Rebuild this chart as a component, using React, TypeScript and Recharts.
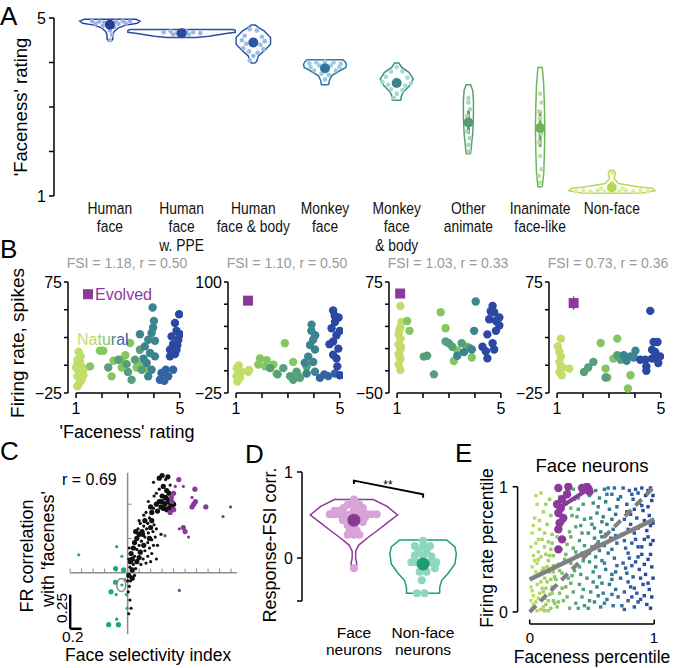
import React from 'react';
import { ScatterChart, Scatter, XAxis, YAxis, ReferenceLine } from 'recharts';

const FONT = "'Liberation Sans', Arial, Helvetica, sans-serif";

// ---------- Panel A: faceness ratings per category ----------
const A_LABELS = [
  ['Human', 'face'],
  ['Human', 'face', 'w. PPE'],
  ['Human', 'face & body'],
  ['Monkey', 'face'],
  ['Monkey', 'face', '& body'],
  ['Other', 'animate'],
  ['Inanimate', 'face-like'],
  ['Non-face'],
];
const A_MEANS = [4.85, 4.66, 4.45, 3.87, 3.54, 2.65, 2.53, 1.19];
const A_ERR = [[4.8, 4.9], [4.63, 4.69], [4.38, 4.52], [3.82, 3.92], [3.48, 3.6], [2.4, 2.92], [2.1, 2.92], [1.16, 1.22]];
const A_LINE = ['#2b45a0', '#2c4ea4', '#2d5ba6', '#35789e', '#3e8b88', '#5c9f76', '#70b45c', '#b6d957'];
const A_DOT = ['#283f98', '#2a4a9f', '#2b57a2', '#33759a', '#3b8783', '#589b72', '#6db159', '#b3d655'];
const A_LIGHT = ['#9db0e4', '#9fb5e6', '#98bce6', '#9ccbe7', '#a4dbcf', '#a5d8b5', '#b6e0a2', '#d8eea0'];
// violin outlines: [rating, half width in category units], bottom to top
const A_VIOLINS = [
  [[4.48, 0.02], [4.52, 0.04], [4.62, 0.04], [4.7, 0.06], [4.78, 0.12], [4.84, 0.22], [4.88, 0.38], [4.93, 0.42], [4.97, 0.36]],
  [[4.56, 0.2], [4.59, 0.38], [4.65, 0.62], [4.68, 0.75], [4.72, 0.75], [4.74, 0.72]],
  [[3.99, 0.03], [4.04, 0.05], [4.15, 0.07], [4.26, 0.15], [4.41, 0.24], [4.56, 0.24], [4.71, 0.15], [4.8, 0.06], [4.84, 0.03]],
  [[3.5, 0.05], [3.59, 0.06], [3.7, 0.09], [3.82, 0.21], [3.89, 0.29], [3.96, 0.3], [4.02, 0.28], [4.06, 0.25]],
  [[3.15, 0.06], [3.22, 0.06], [3.33, 0.09], [3.48, 0.18], [3.63, 0.23], [3.78, 0.17], [3.89, 0.07], [3.99, 0.03]],
  [[1.95, 0.03], [2.1, 0.04], [2.4, 0.06], [2.77, 0.07], [3.15, 0.07], [3.37, 0.06], [3.5, 0.03]],
  [[1.21, 0.03], [1.5, 0.05], [2.0, 0.06], [2.5, 0.065], [3.0, 0.06], [3.5, 0.05], [3.89, 0.03]],
  [[1.06, 0.24], [1.07, 0.42], [1.12, 0.6], [1.17, 0.57], [1.21, 0.36], [1.28, 0.09], [1.4, 0.03], [1.51, 0.05], [1.58, 0.03]],
];
// individual images: [offset from category centre, rating]
const A_POINTS = [
  [[-0.25, 4.93], [-0.15, 4.92], [-0.08, 4.9], [0.08, 4.92], [0.18, 4.93], [0.28, 4.92], [-0.2, 4.87], [0.12, 4.87], [0.22, 4.88], [-0.1, 4.82], [0.06, 4.8], [0, 4.72], [0, 4.5], [0.03, 4.62]],
  [[-0.25, 4.68], [-0.15, 4.7], [-0.07, 4.66], [0.07, 4.7], [0.16, 4.68], [0.26, 4.66], [-0.12, 4.63], [0.1, 4.63], [0, 4.6]],
  [[-0.05, 4.75], [0.05, 4.72], [-0.12, 4.6], [0.12, 4.58], [-0.16, 4.5], [0.16, 4.48], [-0.1, 4.42], [0.1, 4.4], [-0.14, 4.32], [0.14, 4.3], [-0.06, 4.25], [0.06, 4.22], [0, 4.15], [-0.05, 4.05]],
  [[-0.22, 3.98], [-0.12, 4.0], [0, 4.02], [0.12, 4.0], [0.22, 3.97], [-0.2, 3.9], [0.2, 3.9], [-0.08, 3.93], [0.08, 3.93], [-0.15, 3.82], [0.15, 3.82], [-0.05, 3.75], [0.05, 3.72], [0, 3.62]],
  [[0, 3.9], [-0.08, 3.8], [0.08, 3.8], [-0.15, 3.68], [0.15, 3.66], [-0.2, 3.56], [0.2, 3.54], [-0.12, 3.5], [0.12, 3.48], [-0.08, 3.4], [0.08, 3.38], [0, 3.3], [-0.04, 3.2]],
  [[0, 3.2], [0, 3.1], [0.02, 2.95], [-0.02, 2.8], [0.02, 2.6], [-0.02, 2.45], [0.02, 2.3], [0, 2.15], [0, 2.0]],
  [[0, 3.3], [0.02, 3.1], [-0.02, 2.9], [0, 2.75], [0.02, 2.4], [-0.02, 2.2], [0, 1.9], [0.02, 1.6], [-0.02, 1.45], [0, 1.3]],
  [[-0.5, 1.1], [-0.4, 1.12], [-0.3, 1.1], [-0.2, 1.12], [-0.1, 1.1], [0.1, 1.1], [0.2, 1.12], [0.3, 1.1], [0.4, 1.12], [0.5, 1.1], [-0.15, 1.17], [0.15, 1.17], [0, 1.3], [0, 1.52]],
];

// ---------- Panel B: example neurons, [rating, firing rate, colour group] ----------
const B_TITLES = ['FSI = 1.18, r = 0.50', 'FSI = 1.10, r = 0.50', 'FSI = 1.03, r = 0.33', 'FSI = 0.73, r = 0.36'];
const B_DOMAINS = [[-25, 75], [-25, 100], [-50, 75], [-25, 75]];
const B_TICKS = [[-25, 0, 25, 50, 75], [-25, 0, 25, 50, 75, 100], [-50, -25, 0, 25, 50, 75], [-25, 0, 25, 50, 75]];
const B_COLORS = ['#c3dd69', '#86c662', '#55a07a', '#3a8590', '#3164a4', '#2b48a4'];
const B_EVOLVED = [[1.46, 64], [1.46, 79], [1.12, 62], [1.64, 56]];
const B1_DOTS = [
  [1.05, 5, 0], [1.15, 4, 0], [1.05, 1, 0], [1.22, -1, 0], [1.09, -4, 0], [1.15, -7, 0], [1.05, -10, 0], [1.22, -13, 0], [1.13, -16, 0], [1.28, -4, 0], [1.18, 8, 0], [1.0, -2, 0], [1.28, -9, 0], [1.1, 12, 0], [1.05, -19, 0],
  [1.54, -1, 1], [1.92, 13, 1], [2.05, 13, 1], [2.44, 4, 1], [2.37, -10, 1], [2.76, 5, 1], [3.08, 20, 1], [2.76, -2, 1], [3.33, -2, 1], [3.53, 1, 1], [3.78, -4, 1], [2.9, 9, 1],
  [2.24, -2, 2], [2.63, 5, 2], [2.95, 1, 2], [3.14, -13, 2], [3.27, 5, 2], [3.53, -4, 2], [3.46, 14, 2], [3.0, -6, 2],
  [3.46, 28, 3], [3.65, 17, 3], [3.78, 23, 3], [3.91, 29, 3], [3.97, 34, 3], [4.04, 22, 3], [3.85, 11, 3], [3.72, 2, 3], [4.04, 8, 3], [3.95, 52, 3], [3.91, -4, 3], [3.78, -10, 3], [3.6, 6, 3], [4.0, 40, 3],
  [4.23, -13, 4], [4.29, -7, 4], [4.46, -4, 4], [4.55, -10, 4], [4.74, -4, 4], [4.4, -14, 4],
  [4.62, 14, 5], [4.74, 19, 5], [4.68, 26, 5], [4.87, 31, 5], [4.81, 38, 5], [4.97, 46, 5], [4.94, 23, 5], [4.81, 10, 5], [4.62, 8, 5], [4.87, 14, 5], [5.0, 28, 5], [4.9, 18, 5],
];
const B2_DOTS = [
  [1.03, 3, 0], [1.09, -3, 0], [1.15, -8, 0], [1.05, -12, 0], [1.22, -1, 0], [1.47, -1, 0], [1.5, 1, 0], [1.1, 6, 0], [1.02, -6, 0],
  [1.92, 14, 1], [2.18, 12, 1], [1.86, 7, 1], [2.44, 7, 1], [2.56, -3, 1], [3.2, 10, 1], [2.88, 31, 1], [2.12, 5, 1], [3.4, -5, 1],
  [2.31, 3, 2], [2.82, 3, 2], [3.08, -6, 2], [3.33, -1, 2], [3.46, -8, 2], [3.72, 5, 2], [3.2, -10, 2], [2.6, -4, 2],
  [3.91, 52, 3], [3.97, 35, 3], [3.85, 29, 3], [4.04, 24, 3], [3.78, 16, 3], [3.65, 9, 3], [3.97, 10, 3], [4.04, -1, 3], [3.72, -3, 3], [3.9, 45, 3], [4.05, 40, 3],
  [4.23, -8, 4], [4.55, -6, 4], [4.81, -3, 4], [4.4, -4, 4],
  [4.74, 68, 5], [4.81, 55, 5], [4.68, 48, 5], [4.87, 40, 5], [4.74, 33, 5], [4.94, 25, 5], [4.74, 18, 5], [4.87, 14, 5], [4.95, 60, 5], [5.0, 45, 5], [4.9, 5, 5], [5.0, -5, 5], [4.6, 30, 5], [4.8, 62, 5],
];
const B3_DOTS = [
  [1.13, 48, 0], [1.13, 24, 0], [1.06, 16, 0], [1.13, 11, 0], [1.06, 5, 0], [1.13, -1, 0], [1.06, -6, 0], [1.13, -12, 0], [1.06, -18, 0], [1.13, -24, 0], [1.17, 30, 0], [1.08, 20, 0], [1.1, -9, 0], [1.15, 2, 0],
  [1.39, 31, 1], [1.48, 20, 1], [2.68, 41, 1], [2.87, 23, 1], [3.19, -14, 1], [3.88, -10, 1], [3.68, 2, 1], [3.32, -2, 1],
  [2.03, -9, 2], [2.16, -8, 2], [2.42, -29, 2], [2.87, 8, 2], [3.0, 6, 2], [3.13, 2, 2], [3.49, 6, 2], [3.77, 1, 2],
  [3.32, -8, 3], [3.58, -4, 3], [3.88, -1, 3], [3.97, 20, 3], [4.03, 53, 3],
  [4.29, 2, 5], [4.42, -3, 5], [4.48, -11, 5], [4.68, 6, 5], [4.74, -1, 5], [4.48, 16, 5], [4.55, 33, 5], [4.68, 48, 5], [4.74, 41, 5], [4.94, 35, 5], [4.94, 26, 5], [4.81, 20, 5], [4.61, 42, 5], [4.81, 31, 5],
];
const B4_DOTS = [
  [1.15, 24, 0], [1.09, 12, 0], [1.15, 8, 0], [1.09, 3, 0], [1.15, -1, 0], [1.09, -6, 0], [1.18, -9, 0], [1.47, -3, 0], [1.03, 17, 0], [1.22, -2, 0],
  [2.68, 20, 1], [3.32, 24, 1], [2.87, -3, 1], [2.94, -11, 1], [3.83, -9, 1], [3.73, -21, 1], [3.17, 6, 1],
  [2.04, -6, 2], [2.2, -2, 2], [2.4, 3, 2], [2.87, -11, 2], [3.45, 5, 2], [3.32, 9, 2],
  [3.57, 9, 3], [3.83, 8, 3], [4.02, 13, 3], [3.96, 7, 3], [3.68, 4, 3],
  [4.21, 5, 5], [4.4, 5, 5], [4.44, -1, 5], [4.44, -5, 5], [4.66, 6, 5], [4.78, 8, 5], [4.97, 8, 5], [4.9, 2, 5], [4.66, 14, 5], [4.72, 21, 5], [4.87, 21, 5], [4.59, 49, 5], [4.78, 12, 5],
];
const B_DOTS = [B1_DOTS, B2_DOTS, B3_DOTS, B4_DOTS];

// ---------- Panel C: FSI vs FR-faceness correlation, [fsi, r, size] ----------
const C_X_TICKS = [-1, -0.8, -0.6, -0.4, -0.2, 0.2, 0.4, 0.6, 0.8, 1, 1.2, 1.4, 1.6, 1.8];
const C_Y_TICKS = [0.25, 0.5];
const C_BLACK = [
  [0.45, 0.66, 1], [0.55, 0.69, 2], [0.6, 0.71, 2], [0.66, 0.68, 1], [0.7, 0.7, 2], [0.62, 0.63, 2], [0.55, 0.61, 1], [0.5, 0.58, 1], [0.6, 0.56, 2], [0.68, 0.6, 2], [0.74, 0.64, 1], [0.72, 0.58, 2],
  [0.5, 0.5, 2], [0.55, 0.52, 2], [0.6, 0.52, 2], [0.65, 0.5, 2], [0.7, 0.52, 2], [0.75, 0.5, 2], [0.8, 0.5, 2], [0.62, 0.47, 2], [0.68, 0.46, 2], [0.72, 0.47, 2], [0.58, 0.48, 2], [0.45, 0.47, 1], [0.42, 0.44, 2], [0.52, 0.45, 2], [0.78, 0.47, 2], [0.66, 0.55, 2], [0.74, 0.54, 2],
  [0.38, 0.4, 1], [0.42, 0.38, 2], [0.35, 0.36, 1], [0.3, 0.38, 2], [0.46, 0.35, 1], [0.4, 0.33, 2], [0.33, 0.32, 1], [0.28, 0.34, 1], [0.25, 0.3, 2], [0.36, 0.29, 1], [0.44, 0.3, 1], [0.5, 0.32, 1], [0.2, 0.28, 2], [0.3, 0.26, 1], [0.38, 0.25, 2], [0.16, 0.25, 2], [0.24, 0.23, 1], [0.12, 0.22, 2], [0.2, 0.2, 1], [0.28, 0.2, 2], [0.35, 0.22, 1], [0.42, 0.24, 1], [0.48, 0.26, 1], [0.1, 0.18, 2], [0.16, 0.17, 1], [0.22, 0.15, 2], [0.3, 0.16, 1], [0.38, 0.18, 1], [0.45, 0.2, 1], [0.06, 0.14, 2], [0.12, 0.12, 1], [0.2, 0.11, 2], [0.27, 0.1, 1], [0.35, 0.12, 1], [0.42, 0.14, 1], [0.52, 0.2, 1], [0.58, 0.28, 1], [0.05, 0.08, 2], [0.1, 0.06, 1], [0.16, 0.08, 2], [0.23, 0.06, 1], [0.32, 0.07, 1], [0.4, 0.08, 1], [0.5, 0.1, 1], [0.08, 0.02, 2], [0.14, 0.03, 1], [0.04, 0.04, 1], [0.02, 0.1, 1], [0.08, 0.1, 2], [0.03, 0.18, 1], [0.26, 0.28, 2], [0.18, 0.32, 1], [0.14, 0.3, 2], [0.22, 0.36, 1], [0.32, 0.44, 1], [0.4, 0.48, 2], [0.28, 0.42, 1], [0.36, 0.52, 1], [0.46, 0.56, 1], [0.2, 0.38, 1],
  [0.02, -0.02, 2], [0.05, -0.06, 1], [0.08, -0.04, 2], [0.03, -0.1, 1], [0.01, -0.14, 1], [0.04, -0.2, 1], [0.06, -0.26, 1], [0.02, -0.3, 1], [0.12, -0.02, 1], [0.0, -0.06, 1],
];
const C_PURPLE = [
  [0.89, 0.68, 2], [0.97, 0.63, 1], [1.17, 0.61, 2], [0.83, 0.63, 1], [0.8, 0.58, 2], [0.77, 0.52, 2], [1.12, 0.55, 1], [1.15, 0.5, 2], [1.12, 0.48, 2], [1.36, 0.48, 2], [1.79, 0.48, 1], [1.66, 0.41, 1],
  [0.9, 0.32, 1], [0.97, 0.33, 2], [1.0, 0.3, 2], [1.06, 0.26, 1], [0.65, 0.27, 1], [0.9, -0.13, 1], [0.74, 0.44, 2], [0.8, 0.46, 2], [0.76, 0.55, 2], [1.18, 0.52, 2],
];
const C_GREEN = [
  [-0.85, 0.13, 1], [-0.19, 0.19, 1], [-0.1, 0.12, 1], [-0.21, 0.03, 2], [-0.07, 0.02, 2], [-0.21, -0.07, 2], [-0.1, -0.09, 1], [-0.29, -0.14, 2], [-0.2, -0.16, 1], [-0.02, -0.16, 1], [-0.01, -0.26, 1], [-0.33, -0.38, 2], [-0.16, -0.38, 2], [-0.19, -0.34, 1], [-0.05, -0.05, 1],
];
const C_HIGHLIGHT = [[-0.11, -0.09]];

// ---------- Panel D: response-FSI correlation ----------
const D_FACE_VIOLIN = [[-0.15, 0.015], [-0.12, 0.03], [-0.06, 0.04], [0.0, 0.025], [0.08, 0.025], [0.15, 0.07], [0.23, 0.19], [0.32, 0.34], [0.42, 0.5], [0.5, 0.63], [0.6, 0.48], [0.68, 0.28]];
const D_NONFACE_VIOLIN = [[-0.41, 0.24], [-0.34, 0.24], [-0.26, 0.27], [-0.18, 0.36], [-0.07, 0.46], [0.05, 0.48], [0.13, 0.46], [0.21, 0.34]];
const D_FACE_DOTS = [[0, 0.68], [-0.09, 0.62], [0.08, 0.62], [-0.15, 0.58], [0, 0.58], [0.13, 0.58], [-0.28, 0.55], [-0.21, 0.55], [-0.35, 0.51], [-0.28, 0.51], [-0.21, 0.51], [-0.14, 0.51], [-0.05, 0.51], [0.08, 0.51], [0.18, 0.51], [0.25, 0.51], [0.33, 0.51], [-0.09, 0.48], [0.06, 0.48], [-0.16, 0.44], [0.1, 0.44], [0.13, 0.42], [-0.09, 0.38], [0.01, 0.38], [-0.06, 0.32], [0.04, 0.32], [-0.09, 0.27], [0, 0.27], [0.08, 0.27], [0, -0.12], [0.05, 0.55], [-0.03, 0.63], [0.16, 0.47]];
const D_NONFACE_DOTS = [[0, 0.2], [-0.12, 0.14], [0, 0.14], [0.1, 0.14], [-0.07, 0.08], [0.05, 0.08], [-0.12, 0.03], [0, 0.03], [-0.17, -0.05], [-0.1, -0.05], [0.1, -0.05], [0.19, -0.05], [-0.02, -0.1], [-0.05, -0.16], [0.05, -0.16], [-0.02, -0.26], [-0.09, -0.41], [0.02, -0.41], [0.12, 0.02], [0.17, -0.12]];
const D_MEANS = [0.44, -0.07];
const D_BRACKET = [[1, 0.86], [1, 0.9], [2, 0.74], [2, 0.7]];

// ---------- Panel E: percentiles for face neurons ----------
const E_DOTS = [
  [0.02, 0.03], [0.05, 0.08], [0.09, 0.02], [0.13, 0.06], [0.17, 0.03], [0.03, 0.13], [0.08, 0.15], [0.12, 0.11], [0.16, 0.14], [0.19, 0.09], [0.01, 0.2], [0.06, 0.22], [0.1, 0.19], [0.14, 0.24], [0.18, 0.2], [0.04, 0.28], [0.08, 0.3], [0.12, 0.27], [0.16, 0.32], [0.2, 0.28], [0.02, 0.36], [0.06, 0.39], [0.11, 0.35], [0.15, 0.41], [0.19, 0.37], [0.03, 0.45], [0.07, 0.48], [0.13, 0.46], [0.17, 0.5], [0.05, 0.55], [0.1, 0.58], [0.15, 0.56], [0.02, 0.63], [0.08, 0.66], [0.14, 0.7], [0.04, 0.75], [0.11, 0.8], [0.06, 0.86], [0.16, 0.9], [0.09, 0.95], [0.18, 0.62], [0.01, 0.52], [0.12, 0.01], [0.07, 0.42], [0.19, 0.45],
  [0.22, 0.04], [0.27, 0.09], [0.32, 0.03], [0.37, 0.07], [0.42, 0.12], [0.24, 0.15], [0.29, 0.2], [0.35, 0.16], [0.4, 0.22], [0.44, 0.05], [0.21, 0.26], [0.26, 0.31], [0.31, 0.27], [0.36, 0.33], [0.41, 0.3], [0.23, 0.38], [0.28, 0.42], [0.33, 0.39], [0.38, 0.45], [0.43, 0.41], [0.25, 0.5], [0.3, 0.54], [0.35, 0.51], [0.4, 0.57], [0.44, 0.53], [0.22, 0.6], [0.32, 0.64], [0.37, 0.68], [0.42, 0.63], [0.27, 0.72], [0.34, 0.77], [0.39, 0.82], [0.44, 0.74], [0.29, 0.86], [0.36, 0.9], [0.41, 0.95], [0.31, 0.97], [0.24, 0.92],
  [0.47, 0.03], [0.52, 0.08], [0.57, 0.04], [0.62, 0.1], [0.67, 0.05], [0.71, 0.12], [0.49, 0.16], [0.54, 0.2], [0.59, 0.15], [0.64, 0.22], [0.69, 0.18], [0.46, 0.27], [0.51, 0.32], [0.56, 0.28], [0.61, 0.34], [0.66, 0.3], [0.7, 0.37], [0.48, 0.4], [0.53, 0.44], [0.58, 0.41], [0.63, 0.47], [0.68, 0.43], [0.5, 0.52], [0.55, 0.56], [0.6, 0.53], [0.65, 0.59], [0.7, 0.55], [0.47, 0.63], [0.52, 0.67], [0.57, 0.64], [0.62, 0.7], [0.67, 0.66], [0.49, 0.75], [0.54, 0.79], [0.59, 0.76], [0.64, 0.82], [0.69, 0.78], [0.51, 0.87], [0.56, 0.91], [0.61, 0.88], [0.66, 0.94], [0.71, 0.9], [0.53, 0.97], [0.63, 0.99], [0.58, 0.6], [0.68, 0.99],
  [0.74, 0.05], [0.79, 0.09], [0.84, 0.04], [0.89, 0.1], [0.94, 0.06], [0.98, 0.12], [0.76, 0.16], [0.81, 0.2], [0.86, 0.15], [0.91, 0.22], [0.96, 0.18], [0.73, 0.27], [0.78, 0.31], [0.83, 0.28], [0.88, 0.34], [0.93, 0.3], [0.98, 0.36], [0.75, 0.39], [0.8, 0.43], [0.85, 0.4], [0.9, 0.46], [0.95, 0.42], [0.77, 0.51], [0.82, 0.55], [0.87, 0.52], [0.92, 0.58], [0.97, 0.54], [0.74, 0.62], [0.79, 0.66], [0.84, 0.63], [0.89, 0.69], [0.94, 0.65], [0.99, 0.71], [0.76, 0.74], [0.81, 0.78], [0.86, 0.75], [0.91, 0.81], [0.96, 0.77], [0.78, 0.86], [0.83, 0.9], [0.88, 0.87], [0.93, 0.93], [0.98, 0.89], [0.8, 0.97], [0.9, 0.99], [0.85, 0.98], [0.95, 0.97], [0.73, 0.92],
];
const E_DOTS_MORE = [
  [0.03, 0.06], [0.07, 0.11], [0.11, 0.04], [0.15, 0.09], [0.18, 0.15], [0.02, 0.17], [0.09, 0.24], [0.13, 0.19], [0.17, 0.26], [0.05, 0.32], [0.1, 0.33], [0.14, 0.36], [0.19, 0.32], [0.04, 0.41], [0.09, 0.44], [0.16, 0.45], [0.12, 0.52], [0.07, 0.58], [0.18, 0.55], [0.03, 0.69], [0.12, 0.63], [0.08, 0.73], [0.17, 0.77], [0.13, 0.86], [0.05, 0.93], [0.2, 0.07], [0.01, 0.09], [0.06, 0.01], [0.15, 0.01], [0.11, 0.16],
  [0.23, 0.08], [0.3, 0.12], [0.39, 0.03], [0.26, 0.19], [0.33, 0.23], [0.43, 0.18], [0.24, 0.33], [0.34, 0.29], [0.4, 0.36], [0.29, 0.46], [0.37, 0.48], [0.42, 0.47], [0.27, 0.58], [0.33, 0.6], [0.41, 0.69], [0.38, 0.76], [0.43, 0.86], [0.33, 0.83], [0.39, 0.91], [0.35, 0.98],
  [0.48, 0.09], [0.55, 0.13], [0.6, 0.07], [0.66, 0.14], [0.51, 0.24], [0.58, 0.23], [0.66, 0.26], [0.53, 0.36], [0.6, 0.39], [0.69, 0.32], [0.48, 0.47], [0.56, 0.49], [0.66, 0.5], [0.52, 0.59], [0.61, 0.62], [0.69, 0.61], [0.5, 0.7], [0.58, 0.72], [0.66, 0.74], [0.55, 0.84], [0.62, 0.94], [0.7, 0.84], [0.6, 0.98], [0.48, 0.93],
  [0.76, 0.02], [0.82, 0.12], [0.87, 0.08], [0.92, 0.13], [0.97, 0.03], [0.79, 0.24], [0.84, 0.19], [0.89, 0.27], [0.95, 0.23], [0.99, 0.27], [0.77, 0.35], [0.82, 0.37], [0.87, 0.44], [0.92, 0.38], [0.97, 0.46], [0.79, 0.47], [0.85, 0.58], [0.9, 0.52], [0.95, 0.6], [0.99, 0.57], [0.76, 0.57], [0.81, 0.7], [0.87, 0.67], [0.92, 0.73], [0.97, 0.69], [0.78, 0.8], [0.84, 0.82], [0.9, 0.85], [0.95, 0.84], [0.99, 0.93], [0.82, 0.94], [0.87, 0.95], [0.97, 0.99], [0.75, 0.99],
];
const E_EVOLVED = [[0.23, 0.99], [0.31, 1.0], [0.3, 0.94], [0.26, 0.9], [0.22, 0.86], [0.23, 0.79], [0.24, 0.71], [0.23, 0.66], [0.26, 0.58], [0.23, 0.5], [0.42, 0.99], [0.46, 1.0], [0.48, 0.96], [0.25, 0.83], [0.27, 0.75]];
const E_EVOLVED_FIT = [[0.22, 0.82], [0.5, 1.0]];
const E_UNITY = [[0, 0], [1, 1]];
const E_FIT = [[0, 0.26], [1, 0.74]];

const GRADIENT = ['#c7df62', '#8fca5e', '#4ea37a', '#30808f', '#2c5ea3', '#2742a2'];
const PURPLE = '#8b3a9b';

// ---------- helpers ----------
const toXY = (arr: number[][]) => arr.map(([x, y, s]) => ({ x, y, s }));
const violinOutline = (c: number, profile: number[][]) => {
  const right = profile.map(([y, w]) => ({ x: c + w, y }));
  const left = [...profile].reverse().map(([y, w]) => ({ x: c - w, y }));
  return [...right, ...left, right[0]];
};
const hex = (h: string) => [1, 3, 5].map((i) => parseInt(h.slice(i, i + 2), 16));
const gradientColor = (t: number) => {
  const s = Math.max(0, Math.min(1, t)) * (GRADIENT.length - 1);
  const i = Math.min(Math.floor(s), GRADIENT.length - 2);
  const a = hex(GRADIENT[i]);
  const b = hex(GRADIENT[i + 1]);
  const f = s - i;
  return `rgb(${a.map((v, k) => Math.round(v + (b[k] - v) * f)).join(',')})`;
};
const noShape = () => <g />;
const circle = (r: number, fill: string) => (p: any) => <circle cx={p.cx} cy={p.cy} r={r} fill={fill} />;
const endsOnly = (lo: number, hi: number) => (v: number) =>
  v === lo || v === hi ? String(v).replace('-', '\u2212') : '';

const axisStroke = { stroke: '#000', strokeWidth: 1.5 };
const tickStyle = { fill: '#000', fontSize: 16, fontFamily: FONT };
const zero = { top: 0, right: 0, bottom: 0, left: 0 };

// condensed category labels, as in the original figure
const CategoryTick = ({ x, y, payload }: any) => {
  const lines = A_LABELS[Math.round(payload.value) - 1] || [];
  return (
    <text transform={`translate(${x},${y}) scale(0.84,1)`} textAnchor="middle" fontSize={16.5} fontFamily={FONT} fill="#111">
      {lines.map((l, k) => (
        <tspan key={k} x={0} y={18 + k * 18.3}>{l}</tspan>
      ))}
    </text>
  );
};

const PanelA = () => (
  <div style={{ position: 'absolute', left: 0, top: 0 }}>
    <ScatterChart width={678} height={258} margin={{ top: 18, right: 16, bottom: 0, left: 0 }}>
      <XAxis type="number" dataKey="x" domain={[0.22, 8.7]} allowDataOverflow ticks={[1, 2, 3, 4, 5, 6, 7, 8]} interval={0}
        tick={(p: any) => <CategoryTick {...p} />} tickSize={0} tickMargin={0} axisLine={false} tickLine={false} height={62} />
      <YAxis type="number" dataKey="y" domain={[1, 5]} allowDataOverflow ticks={[1, 2, 3, 4, 5]} interval={0}
        tickFormatter={endsOnly(1, 5)} width={54} tickSize={5} tickMargin={3} axisLine={axisStroke} tickLine={axisStroke} tick={tickStyle} />
      {A_VIOLINS.map((v, i) => (
        <Scatter key={`v${i}`} data={violinOutline(i + 1, v)} fill={A_LINE[i]} line={{ stroke: A_LINE[i], strokeWidth: 1.5 }}
          shape={noShape} isAnimationActive={false} />
      ))}
      {A_POINTS.map((pts, i) => (
        <Scatter key={`p${i}`} data={pts.map(([dx, y]) => ({ x: i + 1 + dx, y }))} fill={A_LIGHT[i]} shape={circle(2.3, A_LIGHT[i])} isAnimationActive={false} />
      ))}
      {A_ERR.map(([lo, hi], i) => (
        <ReferenceLine key={`e${i}`} segment={[{ x: i + 1, y: lo }, { x: i + 1, y: hi }]} stroke={A_DOT[i]} strokeWidth={3} />
      ))}
      {A_MEANS.map((m, i) => (
        <Scatter key={`m${i}`} data={[{ x: i + 1, y: m }]} fill={A_DOT[i]} shape={circle(5, A_DOT[i])} isAnimationActive={false} />
      ))}
    </ScatterChart>
  </div>
);

const B_AXIS_X = [68, 228, 389, 549];

const PanelB = ({ i }: { i: number }) => {
  const [lo, hi] = B_DOMAINS[i];
  const ev = B_EVOLVED[i];
  const span = hi - lo;
  return (
    <div style={{ position: 'absolute', left: B_AXIS_X[i] - 40, top: 272 }}>
      <ScatterChart width={158} height={151} margin={{ top: 10, right: 3, bottom: 0, left: 0 }}>
        <XAxis type="number" dataKey="x" domain={[0.69, 5.12]} allowDataOverflow ticks={[1, 2, 3, 4, 5]} interval={0}
          tickFormatter={endsOnly(1, 5)} axisLine={false} tickSize={5} tickMargin={5} tickLine={axisStroke} tick={tickStyle} height={30} />
        <YAxis type="number" dataKey="y" domain={[lo, hi]} allowDataOverflow ticks={B_TICKS[i]} interval={0}
          tickFormatter={endsOnly(lo, hi)} width={40} tickSize={4} tickMargin={2} axisLine={axisStroke} tickLine={axisStroke} tick={tickStyle} />
        <ReferenceLine segment={[{ x: 1, y: lo }, { x: 5, y: lo }]} stroke="#000" strokeWidth={1.5} />
        <Scatter data={B_DOTS[i].map(([x, y, g]) => ({ x, y, g }))} fill="#000"
          shape={(p: any) => <circle cx={p.cx} cy={p.cy} r={4.2} fill={B_COLORS[p.payload.g]} />} isAnimationActive={false} />
        {i === 3 && (
          <ReferenceLine segment={[{ x: ev[0], y: ev[1] - span * 0.06 }, { x: ev[0], y: ev[1] + span * 0.06 }]} stroke={PURPLE} strokeWidth={1.5} />
        )}
        <Scatter data={[{ x: ev[0], y: ev[1] }]} fill={PURPLE}
          shape={(p: any) => <rect x={p.cx - 5} y={p.cy - 5} width={10} height={10} fill={PURPLE} />} isAnimationActive={false} />
      </ScatterChart>
    </div>
  );
};

const sizedDot = (fill: string) => (p: any) => <circle cx={p.cx} cy={p.cy} r={p.payload.s === 2 ? 2.6 : 1.6} fill={fill} />;

const PanelC = () => (
  <div style={{ position: 'absolute', left: 69, top: 470 }}>
    <ScatterChart width={169} height={167} margin={zero}>
      <XAxis type="number" dataKey="x" domain={[-1.02, 1.92]} allowDataOverflow hide />
      <YAxis type="number" dataKey="y" domain={[-0.47, 0.75]} allowDataOverflow hide />
      <ReferenceLine segment={[{ x: -1, y: 0 }, { x: 1.9, y: 0 }]} stroke="#8c8c8c" strokeWidth={1.5} />
      <ReferenceLine segment={[{ x: 0, y: -0.45 }, { x: 0, y: 0.73 }]} stroke="#8c8c8c" strokeWidth={1.5} />
      {C_X_TICKS.map((t) => (
        <ReferenceLine key={`xt${t}`} segment={[{ x: t, y: 0 }, { x: t, y: 0.03 }]} stroke="#8c8c8c" strokeWidth={1} />
      ))}
      {C_Y_TICKS.map((t) => (
        <ReferenceLine key={`yt${t}`} segment={[{ x: 0, y: t }, { x: 0.07, y: t }]} stroke="#8c8c8c" strokeWidth={1} />
      ))}
      <ReferenceLine segment={[{ x: -1, y: -0.16 }, { x: -1, y: -0.41 }]} stroke="#000" strokeWidth={2.5} />
      <ReferenceLine segment={[{ x: -1, y: -0.41 }, { x: -0.8, y: -0.41 }]} stroke="#000" strokeWidth={2.5} />
      <Scatter data={toXY(C_BLACK)} fill="#111" shape={sizedDot('#111')} isAnimationActive={false} />
      <Scatter data={toXY(C_PURPLE)} fill={PURPLE} shape={sizedDot(PURPLE)} isAnimationActive={false} />
      <Scatter data={toXY(C_GREEN)} fill="#1fa878" shape={sizedDot('#1fa878')} isAnimationActive={false} />
      <Scatter data={toXY(C_HIGHLIGHT)} fill="none"
        shape={(p: any) => <ellipse cx={p.cx} cy={p.cy} rx={4.5} ry={6.5} fill="none" stroke="#8c8c8c" strokeWidth={1.5} />} isAnimationActive={false} />
    </ScatterChart>
  </div>
);

const PanelD = () => (
  <div style={{ position: 'absolute', left: 272, top: 462 }}>
    <ScatterChart width={205} height={144} margin={{ top: 10, right: 2, bottom: 5, left: 0 }}>
      <XAxis type="number" dataKey="x" domain={[0.25, 2.75]} allowDataOverflow hide />
      <YAxis type="number" dataKey="y" domain={[-0.5, 1]} allowDataOverflow ticks={[-0.5, 0, 1]} interval={0}
        tickFormatter={endsOnly(0, 1)} width={30} tickSize={5} tickMargin={4} axisLine={axisStroke} tickLine={axisStroke} tick={tickStyle} />
      <Scatter data={violinOutline(1, D_FACE_VIOLIN)} fill={PURPLE} line={{ stroke: PURPLE, strokeWidth: 1.5 }} shape={noShape} isAnimationActive={false} />
      <Scatter data={violinOutline(2, D_NONFACE_VIOLIN)} fill="#1a9e76" line={{ stroke: '#1a9e76', strokeWidth: 1.5 }} shape={noShape} isAnimationActive={false} />
      <Scatter data={D_FACE_DOTS.map(([dx, y]) => ({ x: 1 + dx, y }))} fill="#d8a3d7" shape={circle(4, '#d8a3d7')} isAnimationActive={false} />
      <Scatter data={D_NONFACE_DOTS.map(([dx, y]) => ({ x: 2 + dx, y }))} fill="#8fd7bc" shape={circle(4, '#8fd7bc')} isAnimationActive={false} />
      <Scatter data={[{ x: 1, y: D_MEANS[0] }]} fill="#8b3893" shape={circle(6.5, '#8b3893')} isAnimationActive={false} />
      <Scatter data={[{ x: 2, y: D_MEANS[1] }]} fill="#1b9e77" shape={circle(6.5, '#1b9e77')} isAnimationActive={false} />
      <Scatter data={toXY(D_BRACKET)} fill="#000" line={{ stroke: '#000', strokeWidth: 2 }} shape={noShape} isAnimationActive={false} />
    </ScatterChart>
  </div>
);

const eSquare = (p: any) => <rect x={p.cx - 1.7} y={p.cy - 1.7} width={3.4} height={3.4} fill={gradientColor(p.payload.x)} />;

const PanelE = () => (
  <div style={{ position: 'absolute', left: 511, top: 483 }}>
    <ScatterChart width={147} height={144} margin={zero}>
      <XAxis type="number" dataKey="x" domain={[-0.15, 1.03]} allowDataOverflow hide />
      <YAxis type="number" dataKey="y" domain={[-0.12, 1.03]} allowDataOverflow hide />
      <ReferenceLine segment={[{ x: -0.097, y: 0 }, { x: -0.097, y: 1 }]} stroke="#000" strokeWidth={1.5} />
      <ReferenceLine segment={[{ x: -0.097, y: 0 }, { x: -0.137, y: 0 }]} stroke="#000" strokeWidth={1.5} />
      <ReferenceLine segment={[{ x: -0.097, y: 1 }, { x: -0.137, y: 1 }]} stroke="#000" strokeWidth={1.5} />
      <ReferenceLine segment={[{ x: 0, y: -0.096 }, { x: 1, y: -0.096 }]} stroke="#000" strokeWidth={1.5} />
      <ReferenceLine segment={[{ x: 0, y: -0.096 }, { x: 0, y: -0.06 }]} stroke="#000" strokeWidth={1.5} />
      <ReferenceLine segment={[{ x: 1, y: -0.096 }, { x: 1, y: -0.06 }]} stroke="#000" strokeWidth={1.5} />
      <Scatter data={toXY(E_DOTS)} fill="#888" shape={eSquare} isAnimationActive={false} />
      <Scatter data={toXY(E_DOTS_MORE)} fill="#888" shape={eSquare} isAnimationActive={false} />
      <Scatter data={toXY(E_EVOLVED)} fill={PURPLE} shape={circle(4.2, PURPLE)} isAnimationActive={false} />
      <Scatter data={toXY(E_EVOLVED_FIT)} fill={PURPLE} line={{ stroke: PURPLE, strokeWidth: 4 }} shape={noShape} isAnimationActive={false} />
      <Scatter data={toXY(E_UNITY)} fill="#808080" line={{ stroke: '#808080', strokeWidth: 4, strokeDasharray: '9 6' }} shape={noShape} isAnimationActive={false} />
      <Scatter data={toXY(E_FIT)} fill="#808080" line={{ stroke: '#808080', strokeWidth: 4.5 }} shape={noShape} isAnimationActive={false} />
    </ScatterChart>
  </div>
);

const VText = ({ x, y, size, children }: any) => (
  <text transform={`translate(${x},${y}) rotate(-90)`} textAnchor="middle" fontSize={size}>{children}</text>
);

const NATURAL = [['N', '#c5de72'], ['a', '#bcdb6a'], ['t', '#a6d267'], ['u', '#86c466'], ['r', '#3e8e8a'], ['a', '#356ea4'], ['l', '#2d52a8']];

const Labels = () => (
  <svg width={678} height={668} style={{ position: 'absolute', left: 0, top: 0, pointerEvents: 'none' }} fontFamily={FONT} fill="#000">
    <text x={0} y={25} fontSize={26}>A</text>
    <text x={0} y={258} fontSize={26}>B</text>
    <text x={0} y={460} fontSize={26}>C</text>
    <text x={245} y={463} fontSize={26}>D</text>
    <text x={455} y={462} fontSize={26}>E</text>

    <VText x={27} y={107} size={18.5}>'Faceness' rating</VText>

    {B_TITLES.map((t, i) => (
      <text key={t} x={B_AXIS_X[i] + 59} y={268} fontSize={14} textAnchor="middle" fill="#9a9a9a">{t}</text>
    ))}
    <VText x={24} y={343} size={19}>Firing rate, spikes</VText>
    <text x={95} y={300} fontSize={16} fill={PURPLE}>Evolved</text>
    <text x={77} y={345} fontSize={16}>
      {NATURAL.map(([c, col], k) => <tspan key={k} fill={col}>{c}</tspan>)}
    </text>
    <text x={127} y={438} fontSize={18} textAnchor="middle">'Faceness' rating</text>

    <text x={62} y={485} fontSize={16}>r = 0.69</text>
    <VText x={33} y={556} size={18}>FR correlation</VText>
    <VText x={54} y={549} size={18}>with 'faceness'</VText>
    <VText x={67} y={608} size={15.5}>0.25</VText>
    <text x={62} y={642} fontSize={15.5}>0.2</text>
    <text x={65} y={661} fontSize={17.5}>Face selectivity index</text>

    <VText x={276} y={545} size={18}>Response-FSI corr.</VText>
    <text x={388} y={489} fontSize={12} textAnchor="middle">**</text>
    <text x={354} y={638} fontSize={15.5} textAnchor="middle">Face</text>
    <text x={354} y={655} fontSize={15.5} textAnchor="middle">neurons</text>
    <text x={423} y={638} fontSize={15.5} textAnchor="middle">Non-face</text>
    <text x={423} y={655} fontSize={15.5} textAnchor="middle">neurons</text>

    <text x={592} y={472} fontSize={18.5} textAnchor="middle">Face neurons</text>
    <VText x={493} y={548} size={17.5}>Firing rate percentile</VText>
    <text x={592} y={663} fontSize={17.5} textAnchor="middle">Faceness percentile</text>
    <text x={508} y={493} fontSize={16} textAnchor="end">1</text>
    <text x={508} y={618} fontSize={16} textAnchor="end">0</text>
    <text x={530} y={643} fontSize={15} textAnchor="middle">0</text>
    <text x={654} y={643} fontSize={15} textAnchor="middle">1</text>
  </svg>
);

export default function App() {
  return (
    <div style={{ position: 'absolute', left: 0, top: 0, width: 678, height: 668, background: '#fff', overflow: 'hidden', fontFamily: FONT }}>
      <PanelA />
      {[0, 1, 2, 3].map((i) => <PanelB key={i} i={i} />)}
      <PanelC />
      <PanelD />
      <PanelE />
      <Labels />
    </div>
  );
}
